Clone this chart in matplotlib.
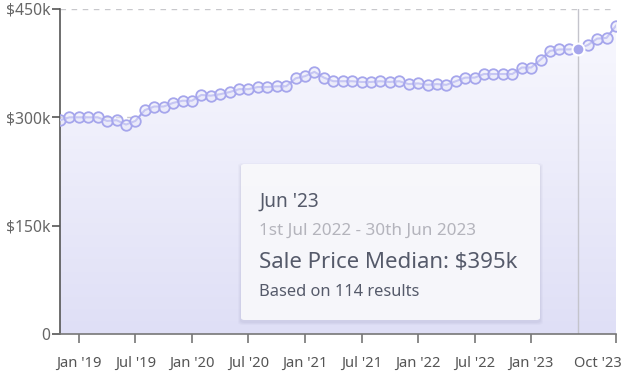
import matplotlib
matplotlib.use("Agg")
import matplotlib.pyplot as plt
import numpy as np
from matplotlib.patches import FancyBboxPatch
import matplotlib.transforms as mtransforms

plt.rcParams['font.family'] = ['Noto Sans', 'DejaVu Sans']

months = ["Nov '18", "Dec '18"] + [f"{m} '{y}" for y in range(19, 24) for m in
          ["Jan", "Feb", "Mar", "Apr", "May", "Jun", "Jul", "Aug", "Sep", "Oct", "Nov", "Dec"]]
months = months[:60]
values = [296, 300, 300, 300, 300, 295, 296, 290, 295, 310,
          315, 315, 320, 323, 323, 331, 330, 332, 335, 339,
          339, 342, 342, 343, 343, 354, 357, 363, 355, 350,
          350, 350, 349, 349, 350, 349, 350, 346, 347, 345,
          346, 345, 350, 355, 355, 360, 360, 360, 360, 369,
          369, 380, 392, 394, 394, 395, 400, 409, 410, 427]
xtick_labels = ["Jan '19", "Jul '19", "Jan '20", "Jul '20", "Jan '21",
                "Jul '21", "Jan '22", "Jul '22", "Jan '23", "Oct '23"]
ytick_values = [0, 150, 300, 450]
ytick_labels = ["0", "$150k", "$300k", "$450k"]
hover_label = "Jun '23"
tooltip_lines = ["Jun '23", "1st Jul 2022 - 30th Jun 2023",
                 "Sale Price Median: $395k", "Based on 114 results"]

x = np.arange(len(values))
y = np.array(values, dtype=float)

fig = plt.figure(figsize=(6.24, 3.76), dpi=100)
W, H = 624, 376
ax = fig.add_axes([60 / W, (H - 334) / H, (616 - 60) / W, (334 - 9) / H])
ax.set_xlim(0, len(values) - 1)
ax.set_ylim(0, 450)

# gradient fill under the line
bot = np.array([0xdf, 0xdf, 0xf6]) / 255
c1 = np.array([0xf8, 0xf8, 0xfe]) / 255
t = np.linspace(0, 1, 256).reshape(-1, 1, 1)
cols = bot * (1 - t) + c1 * t
im = ax.imshow(cols, extent=[0, len(values) - 1, 0, max(values)], origin='lower',
               aspect='auto', zorder=1)
poly = ax.fill_between(x, y, 0, color='none', lw=0)
im.set_clip_path(poly.get_paths()[0], transform=ax.transData)

# grid
for v in ytick_values[1:]:
    ax.axhline(v, color='#c8c8cc', lw=1, ls=(0, (4, 4)), zorder=0.5)

line_color = '#a6a6ec'
ax.plot(x, y, color=line_color, lw=1.5, zorder=3)
ax.plot(x, y, 'o', ms=7.6, mfc=(0.90, 0.90, 0.98, 0.5), mec=line_color, mew=1.3, zorder=4)

hi = months.index(hover_label)
ax.axvline(hi, color='#c4c4cc', lw=1, zorder=2)
ax.plot([hi], [values[hi]], 'o', ms=8.5, mfc=line_color, mec='white', mew=1.5, zorder=5)

# axes styling
for s in ['top', 'right']:
    ax.spines[s].set_visible(False)
ax.spines['left'].set_color('#555555')
ax.spines['bottom'].set_color('#777777')
ax.spines['left'].set_linewidth(1.2)
ax.spines['bottom'].set_linewidth(1.2)
ax.set_yticks(ytick_values)
ax.set_yticklabels(ytick_labels)
ax.set_xticks([months.index(l) for l in xtick_labels])
ax.set_xticklabels(xtick_labels)
ax.tick_params(axis='y', length=6, width=1.2, color='#555555', labelsize=11.3, labelcolor='#666666', pad=1)
ax.tick_params(axis='x', length=6.5, width=1.2, color='#777777', labelsize=10.6, labelcolor='#555555', pad=9)
last = ax.get_xticklabels()[-1]
last.set_horizontalalignment('right')
last.set_transform(last.get_transform() + mtransforms.ScaledTranslation(6 / 100, 0, fig.dpi_scale_trans))

# tooltip
def px(xp, yp):
    return xp / W, 1 - yp / H

x0, y0 = px(241, 320)
x1, y1 = px(540, 164)
for k, a in [(3, 0.04), (2, 0.05), (1, 0.06)]:
    sh = FancyBboxPatch((x0 - k / W, y0 - (k + 2) / H), x1 - x0 + 2 * k / W, y1 - y0 + 2 * k / H,
                        boxstyle="round,pad=0,rounding_size=0.008",
                        transform=fig.transFigure, fc=(0.45, 0.45, 0.6, a), ec='none', zorder=9)
    fig.patches.append(sh)
box = FancyBboxPatch((x0, y0), x1 - x0, y1 - y0,
                     boxstyle="round,pad=0,rounding_size=0.006",
                     transform=fig.transFigure, fc=(0.975, 0.975, 0.99, 0.94), ec='none', zorder=10)
fig.patches.append(box)
tx = 259 / W
fig.text(tx, 1 - 202 / H, tooltip_lines[0], fontsize=13.7, color='#555a6a', va='center', zorder=11)
fig.text(tx, 1 - 231 / H, tooltip_lines[1], fontsize=12.3, color='#b4b4bc', va='center', zorder=11)
fig.text(tx, 1 - 263 / H, tooltip_lines[2], fontsize=16, color='#555a6a', va='center', zorder=11)
fig.text(tx, 1 - 292 / H, tooltip_lines[3], fontsize=11.8, color='#555a6a', va='center', zorder=11)

fig.savefig("out.png", dpi=100)
